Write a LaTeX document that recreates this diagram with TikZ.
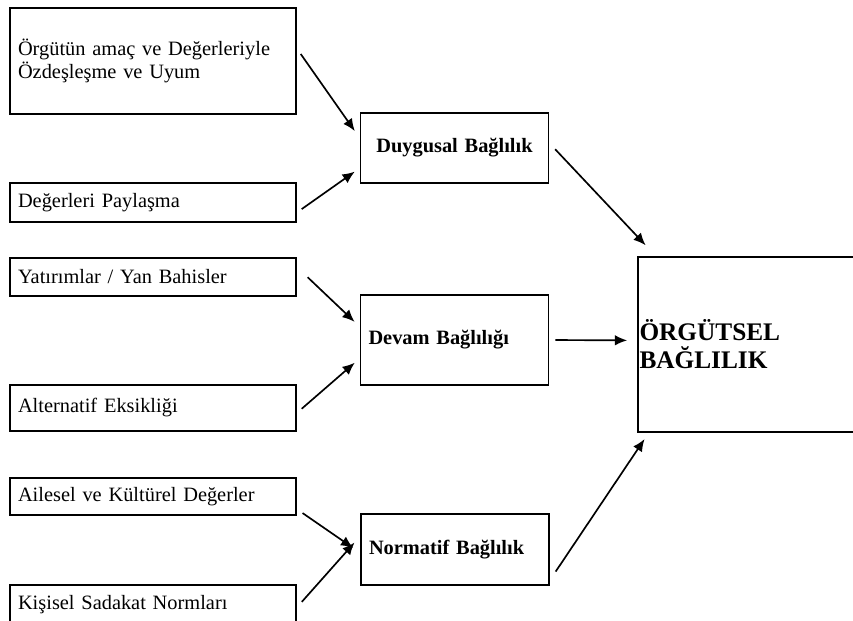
\documentclass[tikz,border=0pt]{standalone}
\usepackage{fontspec}
\setmainfont{Liberation Serif}
\usetikzlibrary{arrows.meta}
\tikzset{>={Latex[length=7pt,width=6pt]}}
\tikzset{
    leftbox/.style={draw, minimum width=5.72cm, text width=5.4cm, inner xsep=0.16cm, align=left, font=\fontsize{11.6}{12.6}\selectfont},
    midbox/.style={draw, minimum width=3.76cm, text width=3.44cm, inner xsep=0.16cm, align=left, font=\fontsize{11.6}{12.6}\selectfont\bfseries},
    link/.style={->}
}

\begin{document}
\begin{tikzpicture}[x=0.02cm, y=-0.02cm, line width=0.95pt]
    \useasboundingbox (0,0) rectangle (853,621);
    \node[leftbox, minimum height=2.12cm](orgut) at (153,61) {Örgütün amaç ve Değerleriyle\\Özdeşleşme ve Uyum};
    \node[leftbox, minimum height=0.78cm](paylas) at (153,202.5) {Değerleri Paylaşma};
    \node[leftbox, minimum height=0.76cm](yatirim) at (153,277) {Yatırımlar / Yan Bahisler};
    \node[leftbox, minimum height=0.92cm](alternatif) at (153,408) {Alternatif Eksikliği};
    \node[leftbox, minimum height=0.74cm](ailesel) at (153,496.5) {Ailesel ve Kültürel Değerler};
    \node[leftbox, minimum height=0.8cm](sadakat) at (153,605) {Kişisel Sadakat Normları};
    \node[midbox, align=center, minimum height=1.4cm](duygusal) at (454.5,148) {Duygusal Bağlılık};
    \node[midbox, minimum height=1.8cm](devam) at (454.5,340) {Devam Bağlılığı};
    \node[midbox, minimum height=1.42cm](normatif) at (455,549.5) {Normatif Bağlılık};
    \node[draw, minimum width=4.64cm, minimum height=3.5cm, text width=4.58cm, inner xsep=0.03cm, align=left,
        font=\fontsize{14.4}{15.9}\selectfont\bfseries](orgutsel) at (754,344.5) {ÖRGÜTSEL\\BAĞLILIK};
    \draw[link, shorten <=0.136cm, shorten >=0.17cm](orgut.5)--(duygusal.174);
    \draw[link, shorten <=0.12cm, shorten >=0.12cm](paylas.356)--(duygusal.192);
    \draw[link, shorten <=0.17cm, shorten >=0.30cm](duygusal.3)--(orgutsel.138);
    \draw[link, shorten <=0.30cm, shorten >=0.14cm](yatirim.4)--(devam.172);
    \draw[link, shorten <=0.13cm, shorten >=0.13cm](alternatif.358)--(devam.191);
    \draw[link, shorten <=0.12cm, shorten >=0.20cm](devam.0)--(orgutsel.178);
    \draw[link, shorten <=0.21cm, shorten >=0.15cm](normatif.342)--(orgutsel.220);
    \draw[link, shorten <=0.14cm, shorten >=0.17cm](ailesel.355)--(normatif.182);
    \draw[link, shorten <=0.15cm, shorten >=0.17cm](sadakat.359)--(normatif.172);
\end{tikzpicture}
\end{document}
